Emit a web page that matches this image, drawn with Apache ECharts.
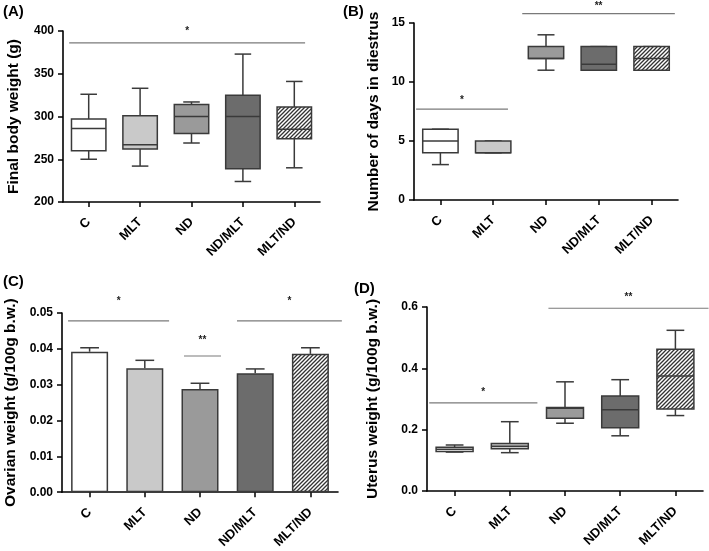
<!DOCTYPE html>
<html>
<head>
<meta charset="utf-8">
<script src="https://cdn.jsdelivr.net/npm/echarts@6.0.0/dist/echarts.min.js"></script>
<style>
  html, body { margin: 0; padding: 0; background: #fff; }
  #main { width: 709px; height: 551px; }
</style>
</head>
<body>
<div id="main"></div>
<script>
// groups shared by all four panels
const groups = ['C', 'MLT', 'ND', 'ND/MLT', 'MLT/ND'];

// box plots: [min, q1, median, q3, max]
const weightBox = [
  [250, 260, 286, 297, 326],
  [242, 262, 267, 301, 333],
  [269, 280, 300, 314, 317],
  [224, 239, 300, 325, 373],
  [240, 274, 285, 311, 341]
];
const diestrusBox = [
  [3, 4, 5, 6, 6],
  [4, 4, 4, 5, 5],
  [11, 12, 12, 13, 14],
  [11, 11, 11.5, 13, 13],
  [11, 11, 12, 13, 13]
];
const uterusBox = [
  [0.127, 0.129, 0.136, 0.143, 0.150],
  [0.125, 0.138, 0.146, 0.155, 0.226],
  [0.221, 0.2375, 0.270, 0.272, 0.356],
  [0.180, 0.206, 0.265, 0.310, 0.363],
  [0.246, 0.267, 0.375, 0.462, 0.524]
];

// bar chart: mean and upper error
const ovarianMean = [0.0392, 0.0346, 0.0288, 0.0332, 0.0386];
const ovarianErr = [0.0011, 0.0022, 0.0016, 0.0012, 0.0017];

// significance bars: [from, to, line value, star value] (x in group index) + texts
const weightSig = [[-0.38, 4.21, 386, 403.5]];
const weightSigText = ['*'];
const diestrusSig = [[-0.46, 1.28, 7.7, 8.67], [1.55, 4.44, 15.8, 16.7]];
const diestrusSigText = ['*', '**'];
const ovarianSig = [[-0.39, 1.44, 0.0478, 0.0542], [1.71, 2.38, 0.038, 0.0432], [2.67, 4.57, 0.0478, 0.0542]];
const ovarianSigText = ['*', '**', '*'];
const uterusSig = [[-0.46, 1.5, 0.2875, 0.331], [1.7, 4.6, 0.596, 0.640]];
const uterusSigText = ['*', '**'];

const FONT = '"Liberation Sans", Arial, sans-serif';
const EDGE = '#3a3a3a';

// hatch pattern for MLT/ND
const hatch = document.createElement('canvas');
hatch.width = 4; hatch.height = 4;
(function () {
  const c = hatch.getContext('2d');
  c.fillStyle = '#fff';
  c.fillRect(0, 0, 4, 4);
  c.strokeStyle = '#333';
  c.lineWidth = 1.3;
  c.beginPath();
  c.moveTo(-1, 1); c.lineTo(1, -1);
  c.moveTo(0, 4); c.lineTo(4, 0);
  c.moveTo(3, 5); c.lineTo(5, 3);
  c.stroke();
})();
const fills = ['#ffffff', '#c9c9c9', '#9a9a9a', '#6c6c6c', { image: hatch, repeat: 'repeat' }];

const grids = [
  { left: 63, top: 31, width: 257, height: 171 },
  { left: 414, top: 23, width: 264, height: 177 },
  { left: 62, top: 313, width: 276, height: 182 },
  { left: 427, top: 307, width: 276, height: 184 }
];

function catAxis(gi) {
  return {
    type: 'category', gridIndex: gi, data: groups, boundaryGap: true,
    axisLine: { onZero: false, lineStyle: { color: '#000', width: 1.6 } },
    axisTick: { show: true, length: 5, alignWithLabel: true, lineStyle: { color: '#000', width: 1.5 } },
    axisLabel: { rotate: 45, margin: 18, color: '#000', fontWeight: 'bold', fontSize: 13, fontFamily: FONT, interval: 0 }
  };
}
function hiddenAxis(gi) {
  return { type: 'value', gridIndex: gi, min: -0.5, max: 4.5, show: false };
}
function valAxis(gi, name, min, max, interval, gap, dec) {
  return {
    type: 'value', gridIndex: gi, min: min, max: max, interval: interval,
    name: name, nameLocation: 'middle', nameGap: gap,
    nameTextStyle: { color: '#000', fontWeight: 'bold', fontSize: 15.5, fontFamily: FONT },
    splitLine: { show: false },
    axisLine: { show: true, onZero: false, lineStyle: { color: '#000', width: 1.6 } },
    axisTick: { show: true, length: 5, lineStyle: { color: '#000', width: 1.5 } },
    axisLabel: {
      margin: 9, color: '#000', fontWeight: 'bold', fontSize: 12, fontFamily: FONT,
      formatter: v => dec == null ? String(v) : v.toFixed(dec)
    }
  };
}

function renderBox(params, api) {
  const i = api.value(0);
  const band = api.size([1, 0])[0];
  const bw = band * 0.67, cw = bw * 0.48;
  const x = api.coord([i, 0])[0];
  const y = k => api.coord([i, api.value(k)])[1];
  const ln = { stroke: EDGE, lineWidth: 1.5 };
  const line = (x1, y1, x2, y2) => ({ type: 'line', shape: { x1, y1, x2, y2 }, style: ln });
  return {
    type: 'group',
    children: [
      line(x, y(5), x, y(4)),
      line(x, y(2), x, y(1)),
      line(x - cw / 2, y(5), x + cw / 2, y(5)),
      line(x - cw / 2, y(1), x + cw / 2, y(1)),
      { type: 'rect', shape: { x: x - bw / 2, y: y(4), width: bw, height: y(2) - y(4) },
        style: { fill: fills[params.dataIndex], stroke: EDGE, lineWidth: 1.5 } },
      line(x - bw / 2, y(3), x + bw / 2, y(3))
    ]
  };
}

function renderErr(params, api) {
  const i = api.value(0);
  const band = api.size([1, 0])[0];
  const cw = band * 0.34;
  const p0 = api.coord([i, api.value(1)]);
  const p1 = api.coord([i, api.value(1) + api.value(2)]);
  const ln = { stroke: EDGE, lineWidth: 1.5 };
  return {
    type: 'group',
    children: [
      { type: 'line', shape: { x1: p0[0], y1: p0[1], x2: p1[0], y2: p1[1] }, style: ln },
      { type: 'line', shape: { x1: p1[0] - cw / 2, y1: p1[1], x2: p1[0] + cw / 2, y2: p1[1] }, style: ln }
    ]
  };
}

function makeSigRender(texts) {
  return function (params, api) {
    const a = api.coord([api.value(0), api.value(2)]);
    const b = api.coord([api.value(1), api.value(2)]);
    const s = api.coord([(api.value(0) + api.value(1)) / 2, api.value(3)]);
    return {
      type: 'group',
      children: [
        { type: 'line', shape: { x1: a[0], y1: a[1], x2: b[0], y2: b[1] }, style: { stroke: '#7a7a7a', lineWidth: 1.2 } },
        { type: 'text', x: s[0], y: s[1] + 3,
          style: { text: texts[params.dataIndex], fill: '#222', font: 'bold 10px ' + FONT, align: 'center', verticalAlign: 'middle' } }
      ]
    };
  };
}

function boxSeries(gi, box) {
  return {
    type: 'custom', xAxisIndex: gi * 2, yAxisIndex: gi, renderItem: renderBox,
    encode: { x: 0, y: [1, 2, 3, 4, 5] },
    data: box.map((b, i) => [i].concat(b))
  };
}
function sigSeries(gi, sig, texts) {
  return {
    type: 'custom', xAxisIndex: gi * 2 + 1, yAxisIndex: gi, renderItem: makeSigRender(texts),
    encode: { x: [0, 1], y: 2 }, clip: false, silent: true,
    data: sig
  };
}

const chart = echarts.init(document.getElementById('main'), null, { renderer: 'canvas' });
chart.setOption({
  backgroundColor: '#fff',
  animation: false,
  grid: grids,
  xAxis: [catAxis(0), hiddenAxis(0), catAxis(1), hiddenAxis(1), catAxis(2), hiddenAxis(2), catAxis(3), hiddenAxis(3)],
  yAxis: [
    valAxis(0, 'Final body weight (g)', 200, 400, 50, 41, null),
    valAxis(1, 'Number of days in diestrus', 0, 15, 5, 32, null),
    valAxis(2, 'Ovarian weight (g/100g b.w.)', 0, 0.05, 0.01, 43, 2),
    valAxis(3, 'Uterus weight (g/100g b.w.)', 0, 0.6, 0.2, 46, 1)
  ],
  graphic: [
    { type: 'text', left: 3, top: 4, style: { text: '(A)', font: 'bold 15px ' + FONT, fill: '#000' } },
    { type: 'text', left: 343, top: 4, style: { text: '(B)', font: 'bold 15px ' + FONT, fill: '#000' } },
    { type: 'text', left: 3, top: 274, style: { text: '(C)', font: 'bold 15px ' + FONT, fill: '#000' } },
    { type: 'text', left: 354, top: 281, style: { text: '(D)', font: 'bold 15px ' + FONT, fill: '#000' } }
  ],
  series: [
    boxSeries(0, weightBox),
    sigSeries(0, weightSig, weightSigText),
    boxSeries(1, diestrusBox),
    sigSeries(1, diestrusSig, diestrusSigText),
    {
      type: 'bar', xAxisIndex: 4, yAxisIndex: 2, barWidth: 37,
      data: ovarianMean.map((v, i) => ({ value: v, itemStyle: { color: fills[i] } })),
      itemStyle: { borderColor: EDGE, borderWidth: 1.5 }
    },
    {
      type: 'custom', xAxisIndex: 4, yAxisIndex: 2, renderItem: renderErr,
      encode: { x: 0, y: 1 },
      data: ovarianMean.map((v, i) => [i, v, ovarianErr[i]])
    },
    sigSeries(2, ovarianSig, ovarianSigText),
    boxSeries(3, uterusBox),
    sigSeries(3, uterusSig, uterusSigText)
  ]
});
</script>
</body>
</html>
